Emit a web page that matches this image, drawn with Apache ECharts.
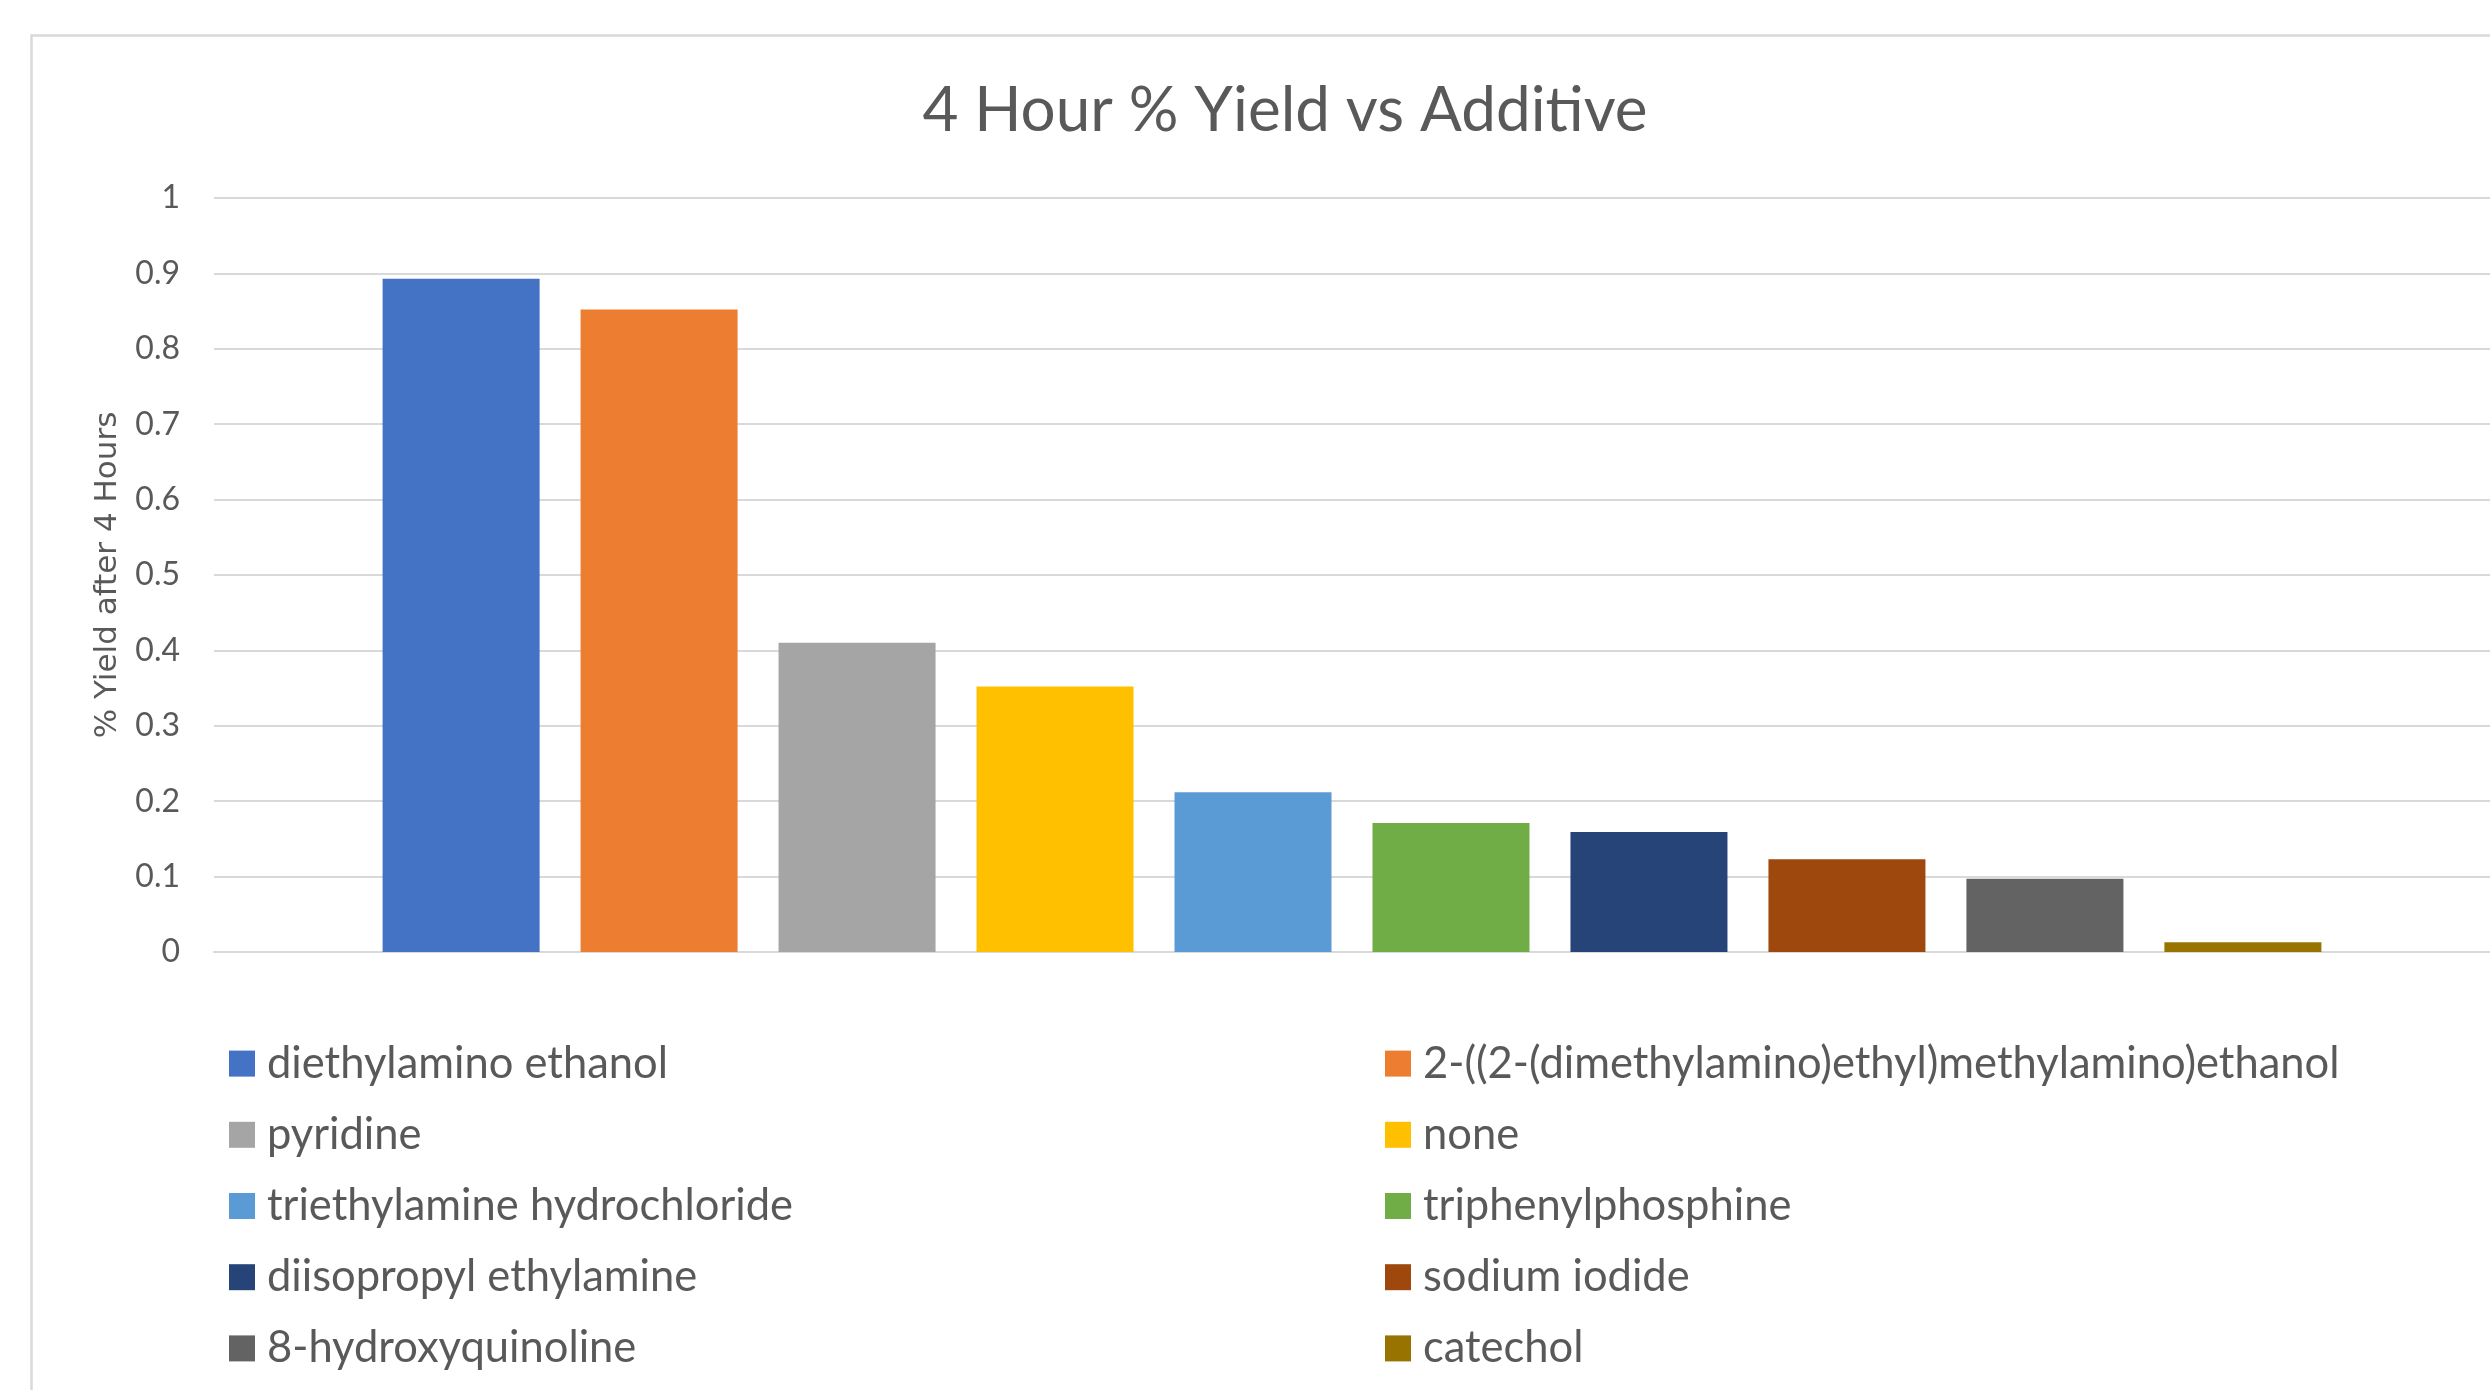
<!DOCTYPE html>
<html>
<head>
<meta charset="utf-8">
<title>4 Hour % Yield vs Additive</title>
<script src="https://cdn.jsdelivr.net/npm/echarts@6/dist/echarts.min.js"></script>
<style>
  html, body { margin: 0; padding: 0; background: #ffffff; }
  #chart { width: 2490px; height: 1390px; }
</style>
</head>
<body>
<div id="chart"></div>
<script>
// Additives tested, in plotting order
const additives = [
  'diethylamino ethanol',
  '2-((2-(dimethylamino)ethyl)methylamino)ethanol',
  'pyridine',
  'none',
  'triethylamine hydrochloride',
  'triphenylphosphine',
  'diisopropyl ethylamine',
  'sodium iodide',
  '8-hydroxyquinoline',
  'catechol'
];

// Fractional yield after 4 hours for each additive
const yields = [0.893, 0.852, 0.410, 0.352, 0.212, 0.171, 0.159, 0.123, 0.097, 0.013];

// Office palette colours, one per additive
const colors = ['#4472C4', '#ED7D31', '#A5A5A5', '#FFC000', '#5B9BD5',
                '#70AD47', '#264478', '#9E480E', '#636363', '#997300'];

// Value axis ticks
const yTicks = [0, 0.1, 0.2, 0.3, 0.4, 0.5, 0.6, 0.7, 0.8, 0.9, 1];

const textColor = '#595959';
const lineColor = '#D9D9D9';

const chart = echarts.init(document.getElementById('chart'), null, { renderer: 'canvas' });

const series = additives.map((name, i) => ({
  name: name,
  type: 'bar',
  data: [yields[i]],
  itemStyle: { color: colors[i] },
  barWidth: 157,
  barGap: '26.1%'
}));

const legendCommon = {
  orient: 'vertical',
  top: 1028,
  padding: 0,
  itemWidth: 26,
  itemHeight: 26,
  itemGap: 0,
  icon: 'rect',
  selectedMode: false,
  textStyle: {
    fontFamily: 'Lato',
    fontSize: 43.5,
    color: textColor,
    lineHeight: 71.2,
    padding: [0, 0, 0, 7]
  }
};

chart.setOption({
  animation: false,
  backgroundColor: '#ffffff',
  title: {
    text: '4 Hour % Yield vs Additive',
    left: 1280,
    textAlign: 'center',
    top: 75,
    textStyle: {
      fontFamily: 'Lato',
      fontSize: 62,
      fontWeight: 'normal',
      color: textColor
    }
  },
  graphic: [{
    type: 'rect',
    shape: { x: 31.5, y: 35.5, width: 2600, height: 1500 },
    style: { fill: 'none', stroke: lineColor, lineWidth: 2.5 },
    silent: true,
    z: -1
  }],
  grid: { left: 214, right: 0, top: 198, bottom: 438, containLabel: false },
  xAxis: {
    type: 'category',
    data: [''],
    axisLine: { show: true, lineStyle: { color: lineColor, width: 2 } },
    axisTick: { show: false },
    axisLabel: { show: false },
    splitLine: { show: false }
  },
  yAxis: {
    type: 'value',
    min: yTicks[0],
    max: yTicks[yTicks.length - 1],
    interval: 0.1,
    name: '% Yield after 4 Hours',
    nameLocation: 'middle',
    nameRotate: 90,
    nameGap: 91,
    nameTextStyle: {
      fontFamily: 'DejaVu Sans',
      fontSize: 31,
      color: textColor
    },
    axisLine: { show: false },
    axisTick: { show: false },
    axisLabel: {
      margin: 34,
      fontFamily: 'Lato',
      fontSize: 32,
      color: textColor,
      formatter: v => String(Math.round(v * 10) / 10)
    },
    splitLine: { lineStyle: { color: lineColor, width: 2 } }
  },
  legend: [
    Object.assign({}, legendCommon, {
      left: 229,
      data: additives.filter((_, i) => i % 2 === 0)
    }),
    Object.assign({}, legendCommon, {
      left: 1385,
      data: additives.filter((_, i) => i % 2 === 1)
    })
  ],
  series: series
});
</script>
</body>
</html>
